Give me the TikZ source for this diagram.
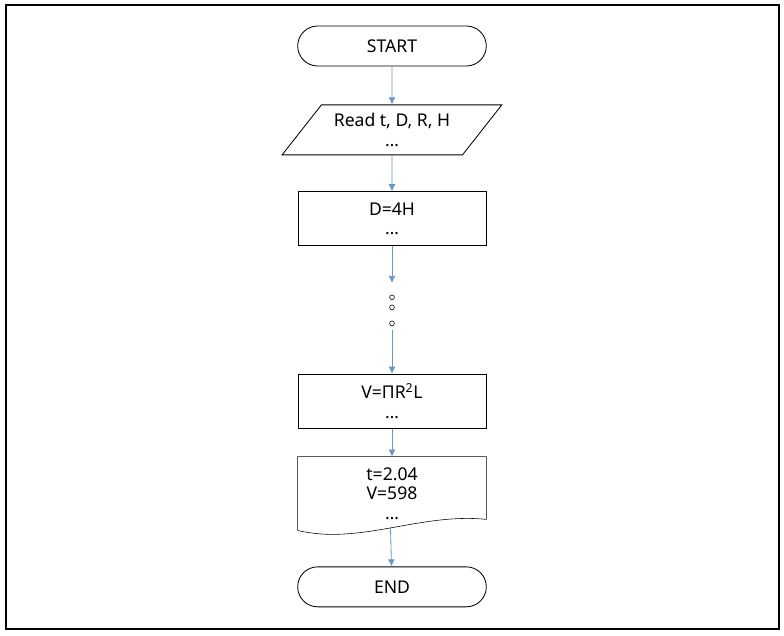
\documentclass[tikz,border=0pt]{standalone}
\usepackage{fontspec}
\setmainfont{Noto Sans}
\usepackage{tikz}
\usetikzlibrary{arrows.meta,calc,positioning,shapes.geometric,shapes.misc}
\definecolor{flowblue}{RGB}{104,152,199}

\begin{document}
\begin{tikzpicture}[every node/.style={font=\fontsize{12.5}{14}\selectfont, align=center, minimum width=4.7cm, line width=0.6pt},
		flow/.style={-{Latex[length=5pt,width=5pt]}, flowblue, line width=0.6pt},
		term/.style={draw, rounded rectangle, minimum width=4.95cm, minimum height=1cm},
		proc/.style={draw, rectangle, minimum height=1.35cm},
		dot/.style={draw, circle, inner sep=0pt, outer sep=0pt, minimum size=0.12cm, line width=0.4pt}]
		\useasboundingbox (0,0) rectangle (19.6,-15.875);
		\draw[line width=1pt] (0.15,-0.125) rectangle (19.475,-15.725);
		
		\node[term] (start) at (9.8,-1.15) {START};
		
		\node[draw, trapezium, trapezium left angle=50.6, trapezium right angle=129.4, trapezium stretches=true, minimum width=5.5cm, minimum height=1.25cm, below = 0.95cm of start] (read) {Read t, D, R, H\\…};
		
		\node[proc, below = 0.9cm of read] (d4h) {D=4H\\…};
		
		\node[dot, below = 1.22cm of d4h] (o1) {};
		\node[dot, below = 0.13cm of o1] (o2) {};
		\node[dot, below = 0.28cm of o2] (o3) {};
		
		\node[proc, below = 1.2cm of o3] (vol) {V=ΠR\textsuperscript{2}L\\…};
		
		\node[minimum height=1.825cm, below = 0.7cm of vol] (out) {t=2.04\\V=598\\…};
		\draw (out.south west) -- (out.north west) -- (out.north east) -- ($(out.south east)+(0,0.275)$) .. controls ($(out.south east)+(-1.65,0.45)$) and ($(out.south west)+(1.55,-0.375)$) .. (out.south west) coordinate[pos=0.5] (wave);
		
		\node[term, below = 0.9cm of out] (end) {END};
		
		\draw[flow] (start) -- (read);
		\draw[flow] (read) -- (d4h);
		\draw[flow, shorten >=0.3cm] (d4h) -- (o1);
		\draw[flow, shorten <=0.1cm] (o3) -- (vol);
		\draw[flow] (vol) -- (out);
		\draw[flow] (wave) -- (end);
		
		\end{tikzpicture}
\end{document}
